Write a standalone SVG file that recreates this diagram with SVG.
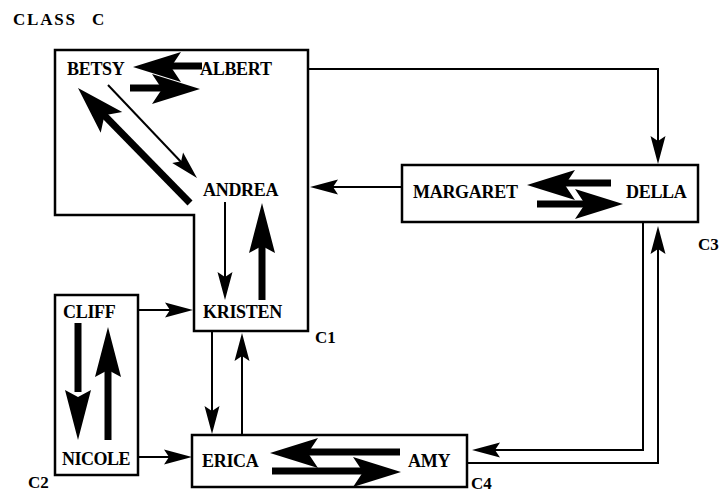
<svg xmlns="http://www.w3.org/2000/svg" width="720" height="493" viewBox="0 0 720 493">
<style>
 text{font-family:"Liberation Serif","Times New Roman",serif;font-weight:bold;font-size:18px;fill:#000}
 .lbl{font-size:17px}
 .box{fill:none;stroke:#000;stroke-width:2.5}
 .ln{fill:none;stroke:#000;stroke-width:2}
 .sh{fill:none;stroke:#000;stroke-width:7}
 .hd{fill:#000}
</style>
<defs>
 <path id="th" d="M0,0 L-28,-7.5 L-23,0 L-28,7.5 Z"/>
 <path id="hk" d="M0,0 L-50,-13 L-43,0 L-50,13 Z"/>
 <path id="hb" d="M0,0 L-48,-15 L-38,0 L-48,15 Z"/>
</defs>
<rect width="720" height="493" fill="#fff"/>
<text id="title" x="13" y="25" class="lbl"><tspan letter-spacing="1.8">CLASS</tspan><tspan x="92">C</tspan></text>

<g id="C1">
 <polygon class="box" points="55,50 308,50 308,331 194,331 194,215 55,215"/>
 <text class="lbl" x="315" y="343">C1</text>
</g>
<g id="C2">
 <rect class="box" x="55" y="295" width="83" height="180"/>
 <text class="lbl" x="28" y="488">C2</text>
</g>
<g id="C3">
 <rect class="box" x="402" y="165" width="296" height="57"/>
 <text class="lbl" x="698" y="250">C3</text>
</g>
<g id="C4">
 <rect class="box" x="192" y="435" width="275" height="52"/>
 <text class="lbl" x="471" y="489">C4</text>
</g>

<g id="betsy"><text x="67" y="75" letter-spacing="-0.3">BETSY</text></g>
<g id="albert"><text x="200" y="75" letter-spacing="-0.3">ALBERT</text></g>
<g id="andrea"><text x="203" y="196" letter-spacing="-0.3">ANDREA</text></g>
<g id="kristen"><text x="203" y="318" letter-spacing="-0.3">KRISTEN</text></g>
<g id="cliff"><text x="63" y="318" letter-spacing="-0.3">CLIFF</text></g>
<g id="nicole"><text x="62" y="465" letter-spacing="-0.5">NICOLE</text></g>
<g id="margaret"><text x="413" y="198" letter-spacing="-0.3">MARGARET</text></g>
<g id="della"><text x="626" y="198" letter-spacing="-0.3">DELLA</text></g>
<g id="erica"><text x="202" y="467" letter-spacing="-0.3">ERICA</text></g>
<g id="amy"><text x="408" y="467" letter-spacing="-0.3">AMY</text></g>

<g id="connectors">
 <!-- between clusters -->
 <path class="ln" d="M308,69 H658 V145"/>
 <use href="#th" class="hd" transform="translate(658,164) rotate(90)"/>
 <path class="ln" d="M402,187 H330"/>
 <use href="#th" class="hd" transform="translate(310,187) rotate(180)"/>
 <path class="ln" d="M138,310 H172"/>
 <use href="#th" class="hd" transform="translate(193,310)"/>
 <path class="ln" d="M138,457 H172"/>
 <use href="#th" class="hd" transform="translate(192,457)"/>
 <path class="ln" d="M212,331 V414"/>
 <use href="#th" class="hd" transform="translate(212,434) rotate(90)"/>
 <path class="ln" d="M242,435 V352"/>
 <use href="#th" class="hd" transform="translate(242,333) rotate(-90)"/>
 <path class="ln" d="M643,222 V450 H492"/>
 <use href="#th" class="hd" transform="translate(472,450) rotate(180)"/>
 <path class="ln" d="M467,463 H658 V246"/>
 <use href="#th" class="hd" transform="translate(658,226) rotate(-90)"/>

 <!-- within C1 -->
 <path class="sh" d="M202,66 H168"/>
 <use href="#hb" class="hd" transform="translate(133,67) rotate(180)"/>
 <path class="sh" d="M130,88 H166"/>
 <use href="#hb" class="hd" transform="translate(200,89)"/>
 <path class="ln" stroke-width="2.5" d="M108,85 L183,164"/>
 <use href="#th" class="hd" transform="translate(197,178) rotate(46.3)"/>
 <path class="sh" stroke-width="9" d="M190,203 L102,113"/>
 <use href="#hb" class="hd" transform="translate(78,88) rotate(225.8)"/>
 <path class="ln" d="M225,202 V280"/>
 <use href="#th" class="hd" transform="translate(225,300) rotate(90)"/>
 <path class="sh" d="M262,300 V244"/>
 <use href="#hk" class="hd" transform="translate(262,203) rotate(-90)"/>

 <!-- within C2 -->
 <path class="sh" stroke-width="8" d="M78,323 V392"/>
 <use href="#hk" class="hd" transform="translate(78,440) rotate(90)"/>
 <path class="sh" stroke-width="8" d="M108,440 V368"/>
 <use href="#hk" class="hd" transform="translate(108,327) rotate(-90)"/>

 <!-- within C3 -->
 <path class="sh" d="M611,183 H562"/>
 <use href="#hb" class="hd" transform="translate(527,185) rotate(180)"/>
 <path class="sh" d="M537,204 H590"/>
 <use href="#hb" class="hd" transform="translate(623,204)"/>

 <!-- within C4 -->
 <path class="sh" d="M400,452 H305"/>
 <use href="#hb" class="hd" transform="translate(270,453) rotate(180)"/>
 <path class="sh" d="M272,471 H366"/>
 <use href="#hb" class="hd" transform="translate(401,472)"/>
</g>
</svg>
